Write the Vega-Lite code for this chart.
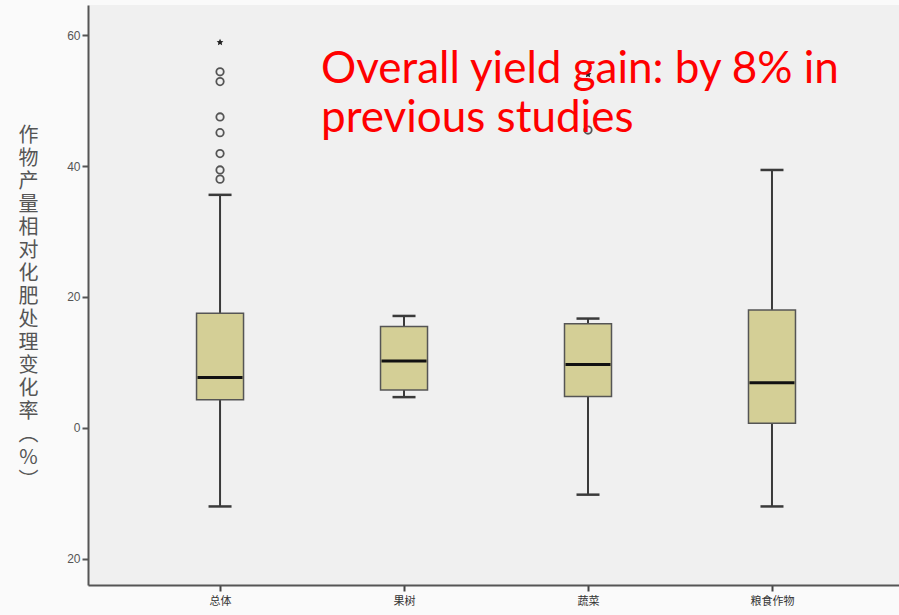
{
  "$schema": "https://vega.github.io/schema/vega-lite/v6.json",
  "autosize": {"type": "none"},
  "padding": {"left": 88, "top": 5, "right": 0, "bottom": 30},
  "width": 850,
  "height": 580,
  "background": "#fafafa",
  "config": {
    "view": {"fill": "#f0f0f0", "stroke": null},
    "font": "Noto Sans CJK SC"
  },
  "datasets": {
    "boxes": [
      {"group": "总体", "lower": -12.0, "q1": 4.3, "median": 7.7, "q3": 17.5, "upper": 35.6},
      {"group": "果树", "lower": 4.7, "q1": 5.8, "median": 10.2, "q3": 15.5, "upper": 17.1},
      {"group": "蔬菜", "lower": -10.2, "q1": 4.8, "median": 9.7, "q3": 15.9, "upper": 16.7},
      {"group": "粮食作物", "lower": -12.0, "q1": 0.7, "median": 6.9, "q3": 18.0, "upper": 39.4}
    ],
    "outliers": [
      {"group": "总体", "value": 58.9, "kind": "extreme"},
      {"group": "总体", "value": 54.4, "kind": "outlier"},
      {"group": "总体", "value": 52.9, "kind": "outlier"},
      {"group": "总体", "value": 47.5, "kind": "outlier"},
      {"group": "总体", "value": 45.1, "kind": "outlier"},
      {"group": "总体", "value": 41.9, "kind": "outlier"},
      {"group": "总体", "value": 39.4, "kind": "outlier"},
      {"group": "总体", "value": 38.0, "kind": "outlier"},
      {"group": "蔬菜", "value": 54.0, "kind": "extreme"},
      {"group": "蔬菜", "value": 45.5, "kind": "outlier"}
    ]
  },
  "layer": [
    {
      "mark": {"type": "rule", "strokeDash": [3, 3], "color": "#555555", "strokeWidth": 1.5},
      "encoding": {
        "y": {"datum": 0, "type": "quantitative", "scale": {"domain": [-24.0, 64.6], "nice": false, "zero": false}}
      }
    },
    {
      "mark": {"type": "rule", "color": "#6a6a6a", "strokeWidth": 2.5},
      "encoding": {
        "y": {"datum": 64.6, "type": "quantitative"}
      }
    },
    {
      "data": {"name": "boxes"},
      "mark": {"type": "rule", "color": "#3a3a3a", "strokeWidth": 2},
      "encoding": {
        "x": {"field": "group", "type": "nominal", "sort": null,
          "scale": {"type": "point", "domain": ["总体", "果树", "蔬菜", "粮食作物"], "padding": 0.81, "align": 0.443},
          "axis": {"title": null, "labelAngle": 0, "labelFontSize": 11, "labelColor": "#333333", "labelFont": "Noto Sans CJK SC",
            "tickColor": "#444444", "tickSize": 6, "tickWidth": 2, "domainColor": "#555555", "domainWidth": 2, "labelPadding": 4}},
        "y": {"field": "lower", "type": "quantitative",
          "scale": {"domain": [-24.0, 64.6], "nice": false, "zero": false},
          "axis": {"values": [-20, 0, 20, 40, 60], "labelExpr": "'' + abs(datum.value)", "grid": false,
            "domainColor": "#555555", "domainWidth": 2, "tickColor": "#555555", "tickWidth": 2, "tickSize": 6,
            "labelColor": "#555555", "labelFontSize": 12, "labelFont": "Liberation Sans", "labelPadding": 2,
            "title": ["作", "物", "产", "量", "相", "对", "化", "肥", "处", "理", "变", "化", "率", "︵", "%", "︶"],
            "titleAngle": 0, "titleX": -60, "titleY": 120, "titleAlign": "center", "titleBaseline": "top",
            "titleFontSize": 20, "titleLineHeight": 23, "titleFontWeight": "normal", "titleColor": "#555555",
            "titleFont": "Noto Sans CJK SC"}},
        "y2": {"field": "upper"}
      }
    },
    {
      "data": {"name": "boxes"},
      "mark": {"type": "tick", "color": "#3a3a3a", "size": 23, "thickness": 2.5, "opacity": 1},
      "encoding": {
        "x": {"field": "group", "type": "nominal"},
        "y": {"field": "lower", "type": "quantitative"}
      }
    },
    {
      "data": {"name": "boxes"},
      "mark": {"type": "tick", "color": "#3a3a3a", "size": 23, "thickness": 2.5, "opacity": 1},
      "encoding": {
        "x": {"field": "group", "type": "nominal"},
        "y": {"field": "upper", "type": "quantitative"}
      }
    },
    {
      "data": {"name": "boxes"},
      "mark": {"type": "bar", "size": 47, "fill": "#d4cf96", "stroke": "#555555", "strokeWidth": 1.5, "opacity": 1},
      "encoding": {
        "x": {"field": "group", "type": "nominal"},
        "y": {"field": "q1", "type": "quantitative"},
        "y2": {"field": "q3"}
      }
    },
    {
      "data": {"name": "boxes"},
      "mark": {"type": "tick", "color": "#111111", "size": 45, "thickness": 3, "opacity": 1},
      "encoding": {
        "x": {"field": "group", "type": "nominal"},
        "y": {"field": "median", "type": "quantitative"}
      }
    },
    {
      "data": {"name": "outliers"},
      "transform": [{"filter": "datum.kind === 'outlier'"}],
      "mark": {"type": "point", "shape": "circle", "filled": false, "size": 55, "strokeWidth": 1.8, "color": "#555555", "opacity": 1},
      "encoding": {
        "x": {"field": "group", "type": "nominal"},
        "y": {"field": "value", "type": "quantitative"}
      }
    },
    {
      "data": {"name": "outliers"},
      "transform": [{"filter": "datum.kind === 'extreme'"}],
      "mark": {"type": "point", "shape": "M0,-1L0.29,-0.4L0.95,-0.31L0.47,0.15L0.59,0.81L0,0.5L-0.59,0.81L-0.47,0.15L-0.95,-0.31L-0.29,-0.4Z", "filled": true, "size": 50, "color": "#222222", "opacity": 1},
      "encoding": {
        "x": {"field": "group", "type": "nominal"},
        "y": {"field": "value", "type": "quantitative"}
      }
    },
    {
      "data": {"values": [{"label": "Overall yield gain: by 8% in\nprevious studies"}]},
      "mark": {"type": "text", "color": "#ff0000", "font": "Lato", "fontSize": 44, "align": "left", "baseline": "alphabetic", "lineBreak": "\n", "lineHeight": 49, "dx": -83},
      "encoding": {
        "x": {"datum": "果树", "type": "nominal"},
        "y": {"datum": 52.7, "type": "quantitative"},
        "text": {"field": "label"}
      }
    }
  ]
}
